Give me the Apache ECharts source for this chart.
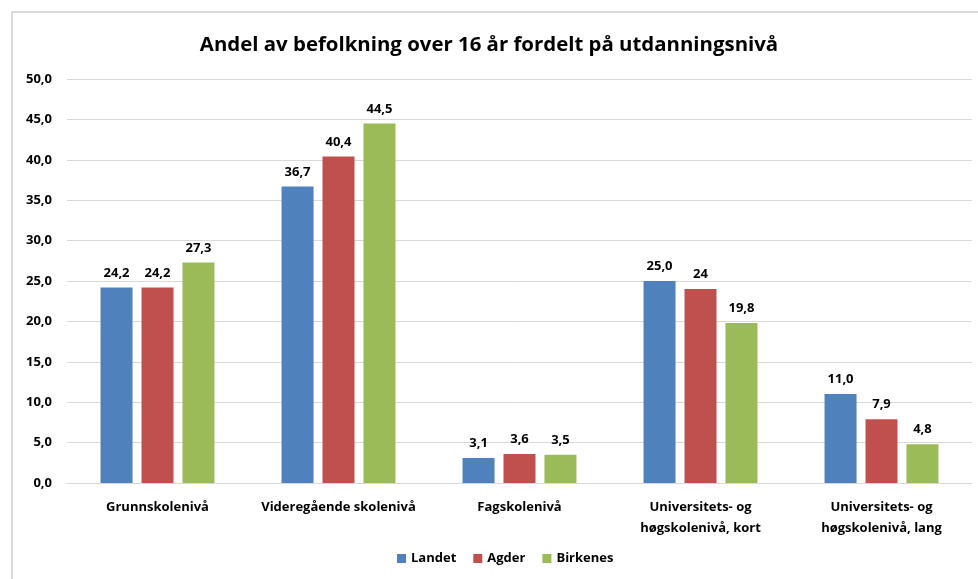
<!DOCTYPE html>
<html>
<head>
<meta charset="utf-8">
<script src="https://cdn.jsdelivr.net/npm/echarts@6/dist/echarts.min.js"></script>
<style>
html,body{margin:0;padding:0;background:#fff;}
#chart{width:978px;height:579px;}
</style>
</head>
<body>
<div id="chart"></div>
<script>
const titleText = 'Andel av befolkning over 16 år fordelt på utdanningsnivå';
const categories = ['Grunnskolenivå', 'Videregående skolenivå', 'Fagskolenivå', 'Universitets- og\nhøgskolenivå, kort', 'Universitets- og\nhøgskolenivå, lang'];
const seriesNames = ['Landet', 'Agder', 'Birkenes'];
const landet = [24.2, 36.7, 3.1, 25.0, 11.0];
const agder = [24.2, 40.4, 3.6, 24, 7.9];
const birkenes = [27.3, 44.5, 3.5, 19.8, 4.8];
const agderLabels = ['24,2', '40,4', '3,6', '24', '7,9'];
const colors = ['#4f81bd', '#c0504d', '#9bbb59'];
const yMin = 0, yMax = 50, yStep = 5;

const FONT = "'Open Sans', sans-serif";
const fmt = v => v.toFixed(1).replace('.', ',');

function mkSeries(name, data, color, labels) {
  return {
    name: name,
    type: 'bar',
    data: data,
    barWidth: 32,
    barGap: '28%',
    itemStyle: { color: color },
    label: {
      show: true, position: 'top', distance: 8,
      fontFamily: FONT, fontWeight: 'bold', fontSize: 13, color: '#000',
      formatter: p => labels ? labels[p.dataIndex] : fmt(p.value)
    }
  };
}

const chart = echarts.init(document.getElementById('chart'), null, { renderer: 'canvas' });
chart.setOption({
  animation: false,
  textStyle: { fontFamily: FONT },
  title: {
    text: titleText, left: 'center', top: 30,
    textStyle: { fontFamily: FONT, fontWeight: 'bold', fontSize: 20.4, color: '#000' }
  },
  legend: {
    data: seriesNames, bottom: 9, left: 392,
    itemWidth: 9, itemHeight: 9, itemGap: 17, icon: 'rect',
    textStyle: { fontFamily: FONT, fontWeight: 'bold', fontSize: 13, color: '#000' }
  },
  grid: { left: 67, right: 6, top: 79, bottom: 96, containLabel: false },
  xAxis: {
    type: 'category', data: categories,
    axisLine: { lineStyle: { color: '#d9d9d9', width: 1 } },
    axisTick: { show: false },
    axisLabel: { fontFamily: FONT, fontWeight: 'bold', fontSize: 13, color: '#000', margin: 14, lineHeight: 21, interval: 0 }
  },
  yAxis: {
    type: 'value', min: yMin, max: yMax, interval: yStep,
    axisLine: { show: false }, axisTick: { show: false },
    splitLine: { lineStyle: { color: '#d9d9d9', width: 1 } },
    axisLabel: { fontFamily: FONT, fontWeight: 'bold', fontSize: 13, color: '#000', margin: 15, formatter: v => fmt(v) }
  },
  graphic: [{
    type: 'rect', shape: { x: 12, y: 12, width: 1000, height: 600 },
    style: { fill: 'none', stroke: '#d9d9d9', lineWidth: 2 }, silent: true
  }],
  series: [
    mkSeries(seriesNames[0], landet, colors[0]),
    mkSeries(seriesNames[1], agder, colors[1], agderLabels),
    mkSeries(seriesNames[2], birkenes, colors[2])
  ]
});
</script>
</body>
</html>
